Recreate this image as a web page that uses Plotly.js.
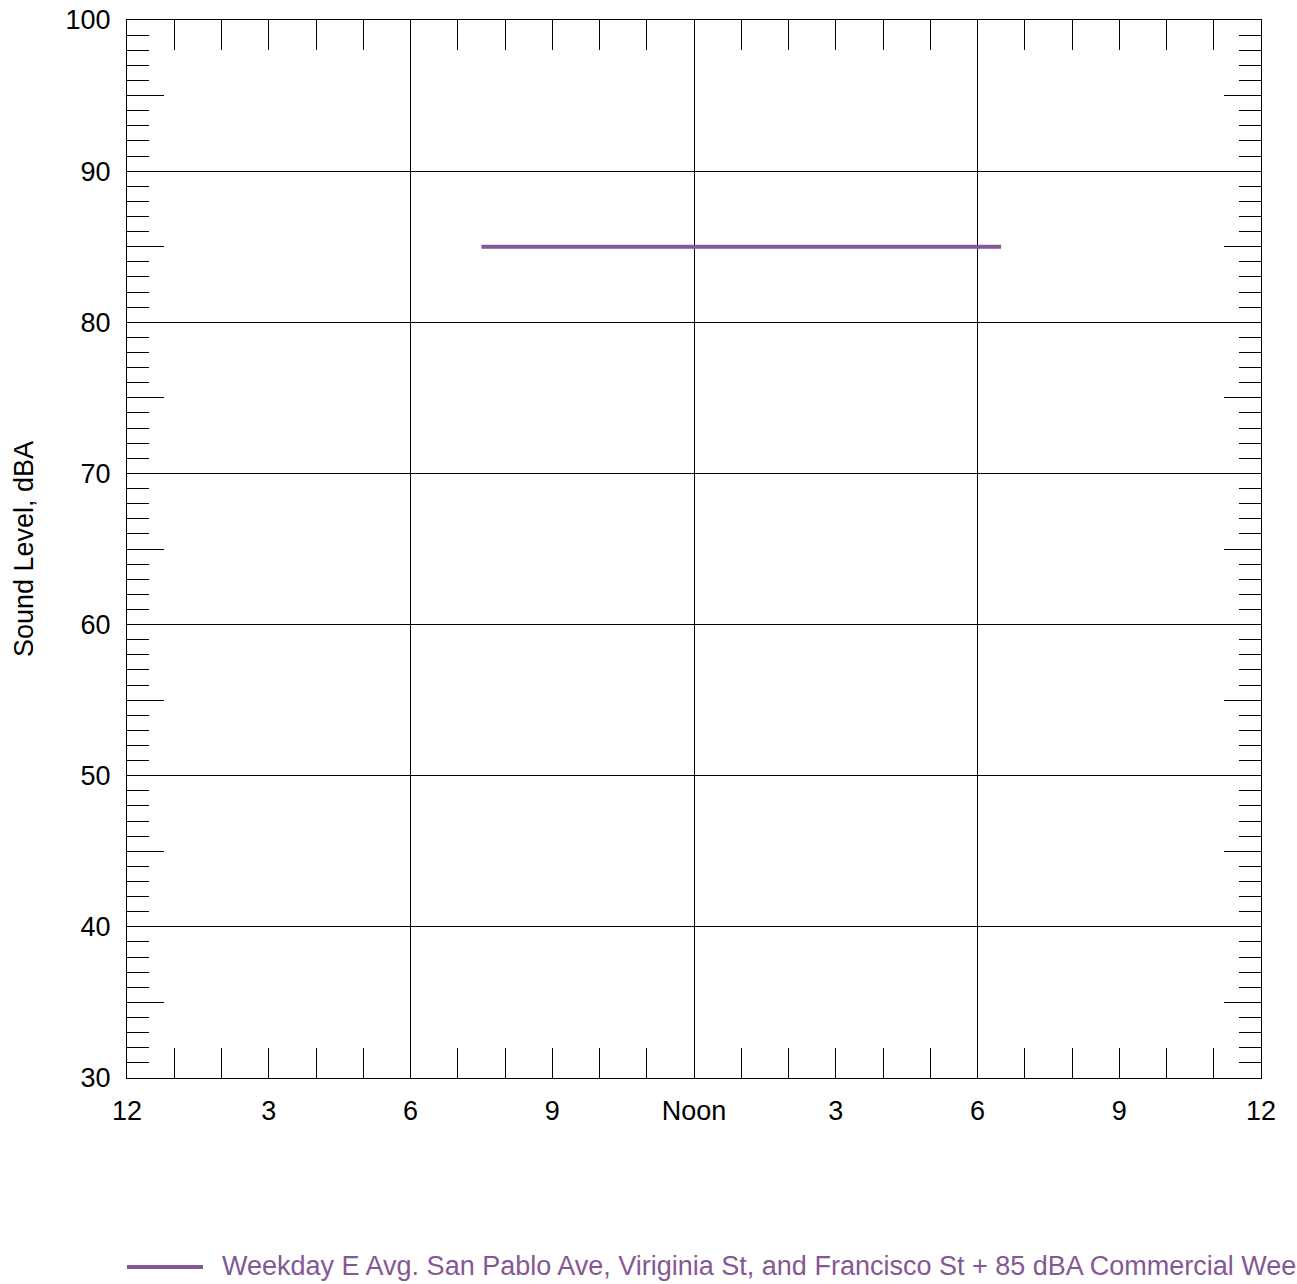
<!DOCTYPE html>
<html>
<head>
<meta charset="utf-8">
<script src="https://cdn.plot.ly/plotly-3.0.1.min.js"></script>
<style>html,body{margin:0;padding:0;background:#fff;}#chart{width:1297px;height:1284px;}</style>
</head>
<body>
<div id="chart"></div>
<script>
// Data
var seriesName = "Weekday E Avg. San Pablo Ave, Viriginia St, and Francisco St + 85 dBA Commercial Weekday";
var hours = [7.5, 18.5];
var levels = [85, 85];
var xTickVals = [0, 3, 6, 9, 12, 15, 18, 21, 24];
var xTickText = ["12", "3", "6", "9", "Noon", "3", "6", "9", "12"];
var xGridVals = [6, 12, 18];
var yTickVals = [30, 40, 50, 60, 70, 80, 90, 100];
var yMidVals = [35, 45, 55, 65, 75, 85, 95];

var lineColor = "#855895";
var fontFam = "Arial, 'Liberation Sans', sans-serif";
var fs = 27;

var traces = [
  {x: hours, y: levels, type: "scatter", mode: "lines", name: seriesName,
   line: {color: lineColor, width: 4}, showlegend: false, xaxis: "x", yaxis: "y"},
  {x: hours, y: levels, type: "scatter", mode: "lines", name: seriesName,
   line: {color: lineColor, width: 0}, opacity: 0, showlegend: false, hoverinfo: "skip",
   xaxis: "x2", yaxis: "y2"}
];

var layout = {
  width: 1297, height: 1284,
  margin: {l: 127, r: 36, t: 20, b: 206},
  paper_bgcolor: "#fff", plot_bgcolor: "#fff",
  font: {family: fontFam, size: fs, color: "#000"},
  showlegend: false,
  xaxis: {
    range: [0, 24], tickvals: xTickVals, ticktext: xTickText,
    ticks: "inside", ticklen: 30, tickwidth: 1, tickcolor: "#000",
    showgrid: false, zeroline: false, showline: true, linecolor: "#000", linewidth: 1,
    mirror: "ticks", fixedrange: true, ticklabelstandoff: 9,
    tickfont: {family: fontFam, size: fs, color: "#000"},
    minor: {dtick: 1, tick0: 0, ticks: "inside", ticklen: 30, tickwidth: 1, tickcolor: "#000", showgrid: false}
  },
  yaxis: {
    range: [30, 100], tickvals: yTickVals,
    ticks: "inside", ticklen: 22, tickwidth: 1, tickcolor: "#000",
    showgrid: true, gridcolor: "#000", gridwidth: 1, zeroline: false,
    showline: true, linecolor: "#000", linewidth: 1, mirror: "ticks", fixedrange: true,
    ticklabelstandoff: 10,
    tickfont: {family: fontFam, size: fs, color: "#000"},
    title: {text: "Sound Level, dBA", font: {family: fontFam, size: fs, color: "#000"}, standoff: 24},
    minor: {dtick: 1, tick0: 30, ticks: "inside", ticklen: 22, tickwidth: 1, tickcolor: "#000", showgrid: false}
  },
  xaxis2: {
    overlaying: "x", anchor: "y2", range: [0, 24], tickvals: xGridVals,
    showticklabels: false, ticks: "", showgrid: true, gridcolor: "#000", gridwidth: 1,
    zeroline: false, showline: false, fixedrange: true
  },
  yaxis2: {
    overlaying: "y", anchor: "x2", range: [30, 100], tickvals: yMidVals,
    showticklabels: false, ticks: "inside", ticklen: 37, tickwidth: 1, tickcolor: "#000",
    showgrid: false, zeroline: false, showline: false, mirror: "ticks", fixedrange: true
  },
  shapes: [
    {type: "line", xref: "paper", yref: "paper", x0: 0, x1: 76/1134, y0: -189/1058, y1: -189/1058,
     line: {color: lineColor, width: 4}}
  ],
  annotations: [
    {xref: "paper", yref: "paper", x: 93/1134, y: -188/1058, xanchor: "left", yanchor: "middle",
     text: seriesName, showarrow: false, font: {family: fontFam, size: fs, color: lineColor}}
  ]
};

Plotly.newPlot("chart", traces, layout, {displayModeBar: false, staticPlot: true});
</script>
</body>
</html>
